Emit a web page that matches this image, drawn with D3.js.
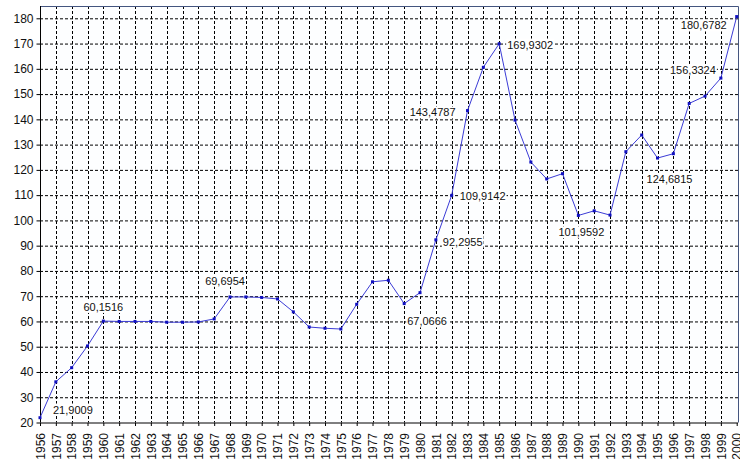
<!DOCTYPE html>
<html><head><meta charset="utf-8">
<script src="https://cdn.jsdelivr.net/npm/d3@7"></script>
<style>
html,body{margin:0;padding:0;background:#fff;}
svg{display:block;font-family:"Liberation Sans",Arial,sans-serif;}
</style></head>
<body><svg id="c" width="740" height="461"></svg>
<script>
const years = d3.range(1956, 2001);
const values = [21.9009, 36.1, 41.7, 50.3, 60.1516, 60.0, 60.0, 60.0, 59.7, 59.7, 59.8, 61.0,
  69.6954, 69.7, 69.5, 68.9, 63.8, 57.8, 57.3, 57.0, 66.8, 75.7, 76.3, 67.0666, 71.4,
  92.2955, 109.9142, 143.4787, 160.6, 169.9302, 139.7, 123.1, 116.4, 118.5, 101.9592,
  103.8, 102.1, 127.2, 133.8, 124.6815, 126.4, 146.3, 149.2, 156.3324, 180.6782];
const yTicks = d3.range(20, 181, 10);
// labelled points: year, horizontal offset, vertical offset, anchor
const labelYears = [1956, 1960, 1968, 1979, 1981, 1982, 1983, 1985, 1990, 1995, 1999, 2000];
const labelDx = [13, 0, -5, 3, 7, 8, -12, 8, 3, 12, -5, -10];
const labelDy = [-8, -14, -16, 18, 2, 1, 2, 1, 17, 21, -8, 9];
const labelAnchor = ["start", "middle", "middle", "start", "start", "start", "end", "start", "middle", "middle", "end", "end"];

const svg = d3.select("#c");
const L = 40, R = 736.7, T = 6, B = 422.5;
const x = d3.scaleLinear().domain([1956, 2000]).range([L, R]);
const y = d3.scaleLinear().domain([20, 180]).range([B, 18.3]);

// background
svg.append("rect").attr("x", L).attr("y", T).attr("width", 739 - L).attr("height", B - T).attr("fill", "#fdfeff");

// grid
svg.append("g").selectAll("line").data(yTicks.filter(v => v > 20)).join("line")
  .attr("x1", L).attr("x2", 739).attr("y1", d => y(d) + 0.5).attr("y2", d => y(d) + 0.5)
  .attr("stroke", "#000").attr("stroke-width", 1).attr("stroke-dasharray", "3,2");
svg.append("g").selectAll("line").data(years.slice(1, -1)).join("line")
  .attr("y1", T).attr("y2", B).attr("x1", d => Math.round(x(d)) + 0.5).attr("x2", d => Math.round(x(d)) + 0.5)
  .attr("stroke", "#000").attr("stroke-width", 1).attr("stroke-dasharray", "3,2");

// border top/right
svg.append("path").attr("d", `M${L},${T + 0.5}H738.5V${B}`).attr("fill", "none").attr("stroke", "#44557f").attr("stroke-width", 1);

// axes
const yAxis = d3.axisLeft(y).tickValues(yTicks).tickSize(4).tickPadding(3).tickFormat(d3.format("d"));
const gy = svg.append("g").attr("transform", `translate(${L + 0.5},0)`).call(yAxis);
gy.select(".domain").attr("d", `M0,${T}V${B}`).attr("stroke", "#000");
gy.selectAll(".tick line").attr("stroke", "#000");
gy.selectAll("text").attr("font-size", 12).attr("fill", "#111").attr("font-family", "Liberation Sans, Arial, sans-serif");

const xAxis = d3.axisBottom(x).tickValues(years).tickSize(3).tickFormat(d3.format("d"));
const gx = svg.append("g").attr("transform", `translate(0,${B + 0.5})`).call(xAxis);
gx.select(".domain").attr("d", `M${L},0H738`).attr("stroke", "#000");
gx.selectAll(".tick line").attr("stroke", "#000");
gx.selectAll("text").attr("font-size", 12).attr("fill", "#111").attr("font-family", "Liberation Sans, Arial, sans-serif")
  .attr("transform", "rotate(-90)").attr("text-anchor", "end").attr("x", -10).attr("y", 0).attr("dy", "0.35em");

// line
const data = years.map((yr, i) => ({yr, v: values[i]}));
svg.append("path").datum(data).attr("fill", "none").attr("stroke", "#3b3bd6").attr("stroke-width", 1)
  .attr("d", d3.line().x(d => x(d.yr)).y(d => y(d.v)));
svg.append("g").selectAll("rect").data(data).join("rect")
  .attr("x", d => x(d.yr) - 1.5).attr("y", d => y(d.v) - 1.5).attr("width", 3).attr("height", 3).attr("fill", "#1010c0");

// labels with opaque background
const lg = svg.append("g").selectAll("g").data(labelYears).join("g");
const texts = lg.append("text")
  .attr("x", (d, i) => x(d) + labelDx[i])
  .attr("y", (d, i) => y(values[d - 1956]) + labelDy[i])
  .attr("dy", "0.35em")
  .attr("text-anchor", (d, i) => labelAnchor[i])
  .attr("font-size", 11).attr("fill", "#111")
  .text(d => d3.format(".4f")(values[d - 1956]).replace(".", ","));
texts.each(function() {
  const b = this.getBBox();
  d3.select(this.parentNode).insert("rect", "text")
    .attr("x", b.x - 1).attr("y", b.y).attr("width", b.width + 2).attr("height", b.height)
    .attr("fill", "#fff");
});
</script></body></html>
